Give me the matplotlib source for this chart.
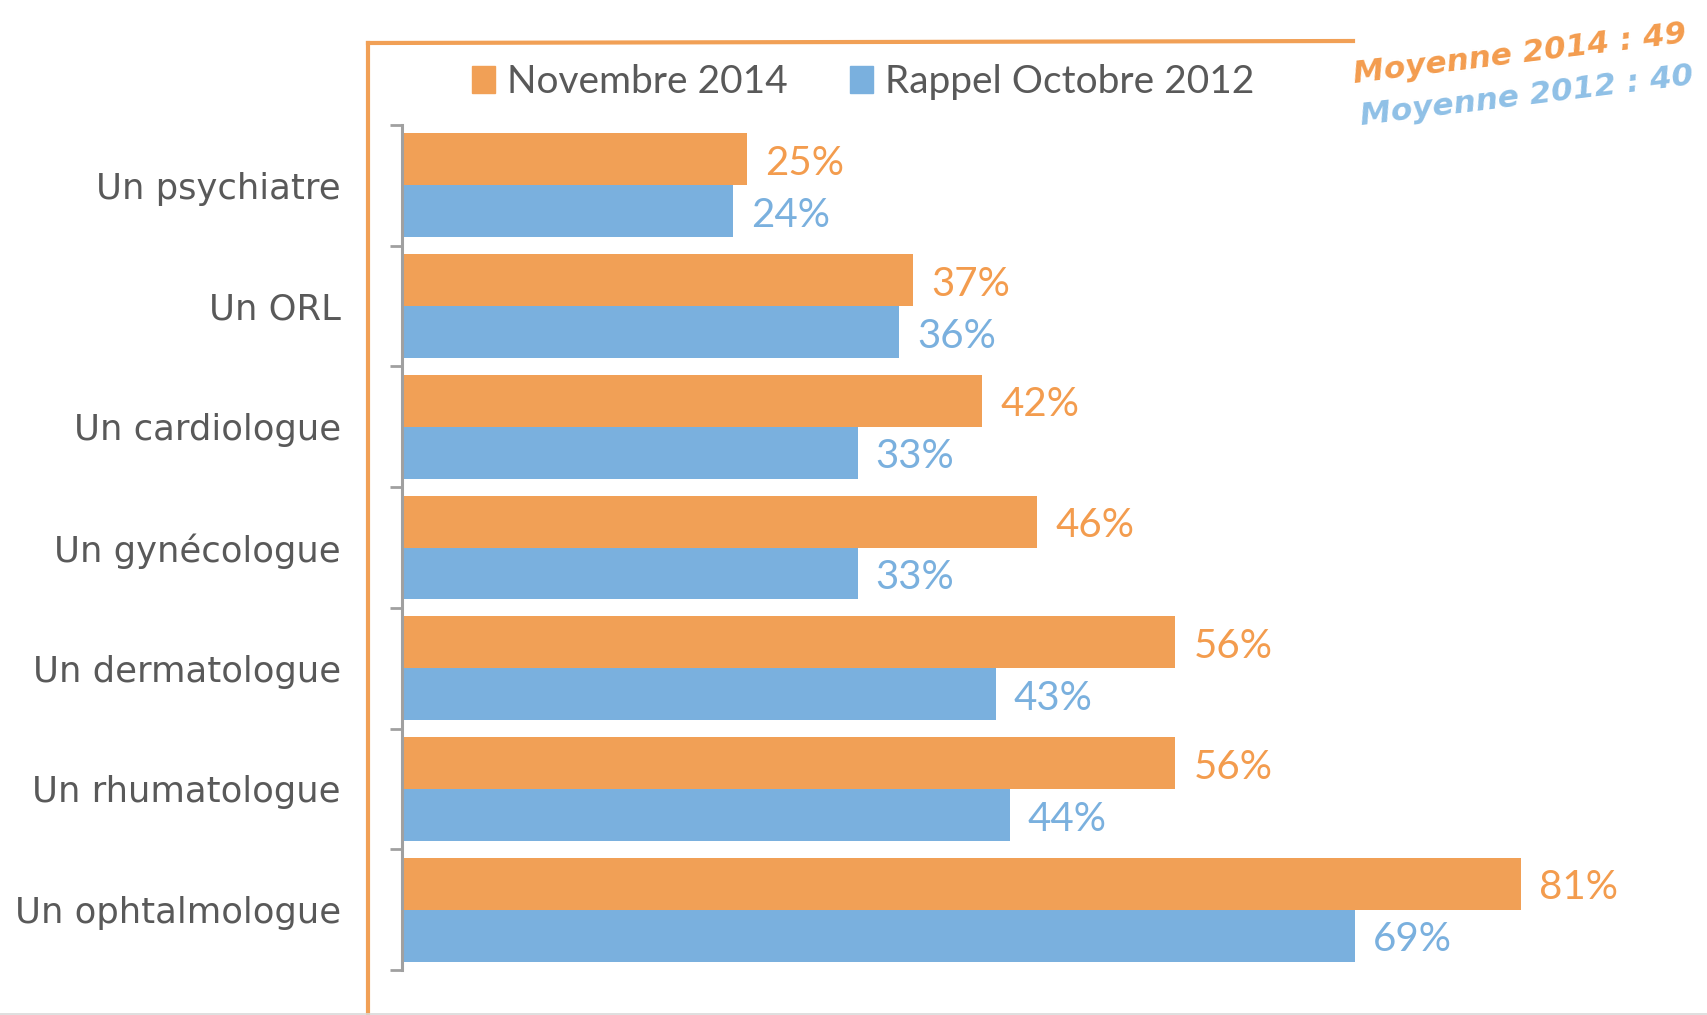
import numpy as np
import matplotlib
matplotlib.use("Agg")
import matplotlib.pyplot as plt
from matplotlib.lines import Line2D
from matplotlib.patches import Patch
from matplotlib import font_manager

categories = ["Un psychiatre", "Un ORL", "Un cardiologue", "Un gynécologue",
              "Un dermatologue", "Un rhumatologue", "Un ophtalmologue"]
nov_2014 = [25, 37, 42, 46, 56, 56, 81]
oct_2012 = [24, 36, 33, 33, 43, 44, 69]
series_names = ["Novembre 2014", "Rappel Octobre 2012"]
moyenne_2014 = "Moyenne 2014 : 49"
moyenne_2012 = "Moyenne 2012 : 40"

ORANGE = "#F1A056"
BLUE = "#7AB0DE"
ORANGE_TXT = "#F39C4E"
BLUE_TXT = "#7AB0DE"
GRAY_TXT = "#595959"

installed = {f.name for f in font_manager.fontManager.ttflist}
narrow = [f for f in ["Liberation Sans Narrow", "Lato"] if f in installed]
narrow.append("DejaVu Sans")

W, H = 1707, 1015
fig = plt.figure(figsize=(W / 100, H / 100), dpi=100)
ax = fig.add_axes([402 / W, 1 - 970 / H, 1243 / W, 845 / H])

y = np.arange(len(categories))
bh = 0.43
ax.barh(y - bh / 2, nov_2014, height=bh, color=ORANGE)
ax.barh(y + bh / 2, oct_2012, height=bh, color=BLUE)

for i in range(len(categories)):
    ax.annotate(f"{nov_2014[i]}%", (nov_2014[i], y[i] - bh / 2), xytext=(13, -3),
                textcoords="offset points", va="center", ha="left",
                fontsize=29, color=ORANGE_TXT, family=narrow)
    ax.annotate(f"{oct_2012[i]}%", (oct_2012[i], y[i] + bh / 2), xytext=(13, -3),
                textcoords="offset points", va="center", ha="left",
                fontsize=29, color=BLUE_TXT, family=narrow)

ax.set_xlim(0, 90)
ax.set_ylim(len(categories) - 0.5, -0.5)
ax.set_yticks(y)
ax.set_yticklabels(categories, fontsize=25.5, color=GRAY_TXT)
ax.tick_params(axis="y", which="major", length=0, pad=44)
ax.set_yticks(np.arange(-0.5, len(categories)), minor=True)
ax.tick_params(axis="y", which="minor", length=9, width=2, color="#A0A0A0")
ax.set_xticks([])
for s in ["top", "right", "bottom"]:
    ax.spines[s].set_visible(False)
ax.spines["left"].set_color("#A0A0A0")
ax.spines["left"].set_linewidth(2.2)

handles = [Patch(color=ORANGE), Patch(color=BLUE)]
fig.legend(handles, series_names, loc="center", bbox_to_anchor=(863 / W, 1 - 82 / H),
           ncol=2, frameon=False, handlelength=0.6, handleheight=0.7,
           handletextpad=0.3, columnspacing=1.6,
           prop={"family": narrow, "size": 28}, labelcolor=GRAY_TXT)

# orange frame
fig.add_artist(Line2D([368 / W, 368 / W], [0, 1 - 43 / H], color=ORANGE, lw=3))
fig.add_artist(Line2D([368 / W, 1353 / W], [1 - 43 / H, 1 - 41 / H], color=ORANGE, lw=3))
fig.add_artist(Line2D([0, 1], [1.5 / H, 1.5 / H], color="#D9D9D9", lw=1.2))

fig.text(1520 / W, 1 - 54 / H, moyenne_2014, color=ORANGE_TXT, fontsize=22.5,
         fontweight="bold", fontstyle="italic", rotation=7,
         ha="center", va="center", rotation_mode="anchor")
fig.text(1527 / W, 1 - 96 / H, moyenne_2012, color="#8FC0E6", fontsize=22.5,
         fontweight="bold", fontstyle="italic", rotation=7,
         ha="center", va="center", rotation_mode="anchor")

fig.savefig("out.png", dpi=100)
